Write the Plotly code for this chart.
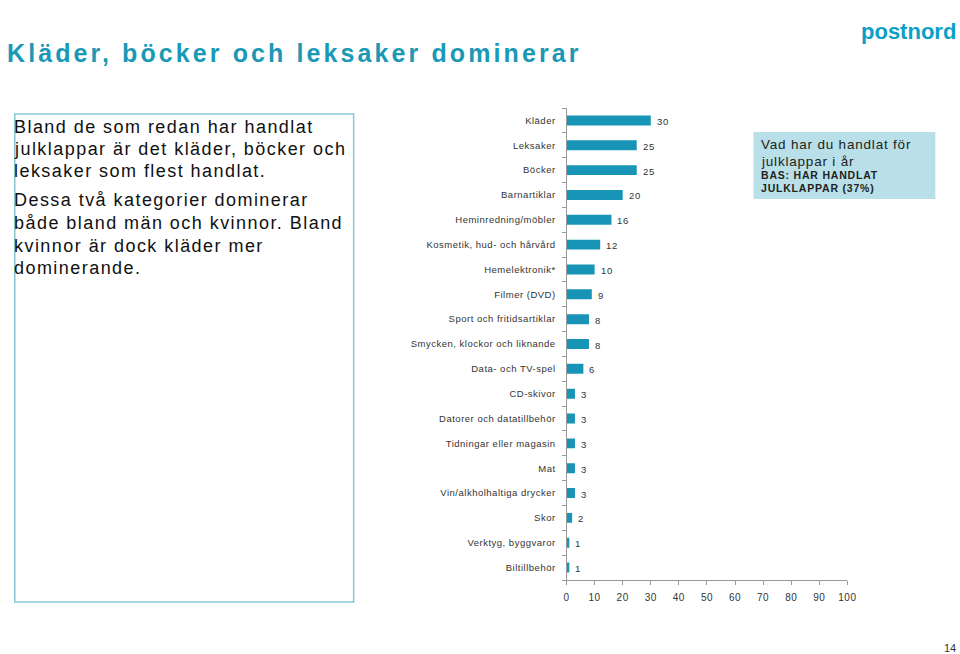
import plotly.graph_objects as go

categories = ["Kläder", "Leksaker", "Böcker", "Barnartiklar", "Heminredning/möbler",
              "Kosmetik, hud- och hårvård", "Hemelektronik*", "Filmer (DVD)",
              "Sport och fritidsartiklar", "Smycken, klockor och liknande",
              "Data- och TV-spel", "CD-skivor", "Datorer och datatillbehör",
              "Tidningar eller magasin", "Mat", "Vin/alkholhaltiga drycker",
              "Skor", "Verktyg, byggvaror", "Biltillbehör"]
values = [30, 25, 25, 20, 16, 12, 10, 9, 8, 8, 6, 3, 3, 3, 3, 3, 2, 1, 1]
x_ticks = [0, 10, 20, 30, 40, 50, 60, 70, 80, 90, 100]

title_text = "Kläder, böcker och leksaker dominerar"
body_lines = ["Bland de som redan har handlat",
              "julklappar är det kläder, böcker och",
              "leksaker som flest handlat.",
              "Dessa två kategorier dominerar",
              "både bland män och kvinnor. Bland",
              "kvinnor är dock kläder mer",
              "dominerande."]
body_line_y = [127, 149, 171, 200, 223, 246, 268]
legend_lines = ["Vad har du handlat för", "julklappar i år"]
legend_bold = ["BAS: HAR HANDLAT", "JULKLAPPAR (37%)"]
legend_y = [145, 161]
legend_bold_y = [175, 188]

W, H = 960, 654
BAR = "#1794b6"
TEAL = "#1a98b5"
FONT = "Liberation Sans, Arial, sans-serif"


def px_x(p):
    # horizontal pixel position -> paper fraction (small correction for the capture)
    return ((p - 2.2) / 0.988) / W


def px_y(p):
    return 1 - p / H


def spaced(t, s):
    return '<span style="letter-spacing:%spx">%s</span>' % (s, t)


fig = go.Figure()
fig.add_trace(go.Bar(
    x=values, y=categories, orientation="h",
    marker=dict(color=BAR, line=dict(width=0)),
    width=0.4, hoverinfo="skip"))

annotations = []
for c, v in zip(categories, values):
    annotations.append(dict(x=v, y=c, xref="x", yref="y", text=spaced(str(v), 0.6),
                            showarrow=False, xanchor="left", xshift=4, yshift=-1,
                            font=dict(size=9.5, color="#333333", family=FONT)))

# Title
annotations.append(dict(x=px_x(4), y=px_y(53), xref="paper", yref="paper",
                        text="<b>" + spaced(title_text, 3.1) + "</b>", showarrow=False,
                        xanchor="left", yanchor="middle",
                        font=dict(size=25, color=TEAL, family=FONT)))
# Logo
annotations.append(dict(x=px_x(958), y=px_y(32), xref="paper", yref="paper",
                        text="<b>postnord</b>", showarrow=False,
                        xanchor="right", yanchor="middle",
                        font=dict(size=22, color="#0aa0c8", family=FONT)))
# Body text
for line, yy in zip(body_lines, body_line_y):
    annotations.append(dict(x=px_x(11), y=px_y(yy), xref="paper", yref="paper",
                            text=spaced(line, 1.45), showarrow=False, align="left",
                            xanchor="left", yanchor="middle",
                            font=dict(size=18, color="#111111", family=FONT)))
# Legend box text
for line, yy in zip(legend_lines, legend_y):
    annotations.append(dict(x=px_x(759), y=px_y(yy), xref="paper", yref="paper",
                            text=spaced(line, 0.8), showarrow=False, align="left",
                            xanchor="left", yanchor="middle",
                            font=dict(size=13.5, color="#222222", family=FONT)))
for line, yy in zip(legend_bold, legend_bold_y):
    annotations.append(dict(x=px_x(759), y=px_y(yy), xref="paper", yref="paper",
                            text="<b>" + spaced(line, 0.8) + "</b>", showarrow=False,
                            align="left", xanchor="left", yanchor="middle",
                            font=dict(size=10.5, color="#222222", family=FONT)))
# Page number
annotations.append(dict(x=px_x(958), y=px_y(648), xref="paper", yref="paper",
                        text="14", showarrow=False, xanchor="right", yanchor="middle",
                        font=dict(size=11, color="#333333", family=FONT)))

shapes = [
    dict(type="rect", xref="paper", yref="paper",
         x0=px_x(14), x1=px_x(353), y0=px_y(602), y1=px_y(114),
         line=dict(color="#86c6d6", width=1.5), fillcolor="rgba(0,0,0,0)"),
    dict(type="rect", xref="paper", yref="paper",
         x0=px_x(753), x1=px_x(935), y0=px_y(199), y1=px_y(132),
         line=dict(width=0), fillcolor="#b9e0e8", layer="below"),
]

fig.update_layout(
    width=W, height=H, autosize=False,
    margin=dict(l=0, r=0, t=0, b=0),
    paper_bgcolor="white", plot_bgcolor="white",
    showlegend=False,
    annotations=annotations,
    shapes=shapes,
    font=dict(family=FONT),
    xaxis=dict(domain=[px_x(566), px_x(847)], range=[0, 100],
               tickvals=x_ticks, ticktext=[spaced(str(t), 0.5) for t in x_ticks],
               ticks="outside", ticklen=4, tickcolor="#999999",
               showline=True, linecolor="#999999", linewidth=1,
               showgrid=False, zeroline=False, ticklabelstandoff=4,
               tickfont=dict(size=10, color="#333333", family=FONT)),
    yaxis=dict(domain=[px_y(580), px_y(108)], type="category",
               categoryorder="array", categoryarray=categories,
               tickvals=categories, ticktext=[spaced(c, 0.5) for c in categories],
               autorange="reversed",
               ticks="outside", ticklen=4, tickcolor="#999999", tickson="boundaries",
               showline=True, linecolor="#999999", linewidth=1,
               showgrid=False, zeroline=False, ticklabelstandoff=8,
               tickfont=dict(size=9.5, color="#333333", family=FONT)),
)

fig.write_html("out.html",
               config=dict(displayModeBar=False, responsive=False),
               post_script="document.documentElement.style.overflow='hidden';"
                           "document.body.style.margin='0';document.body.style.overflow='hidden';")
